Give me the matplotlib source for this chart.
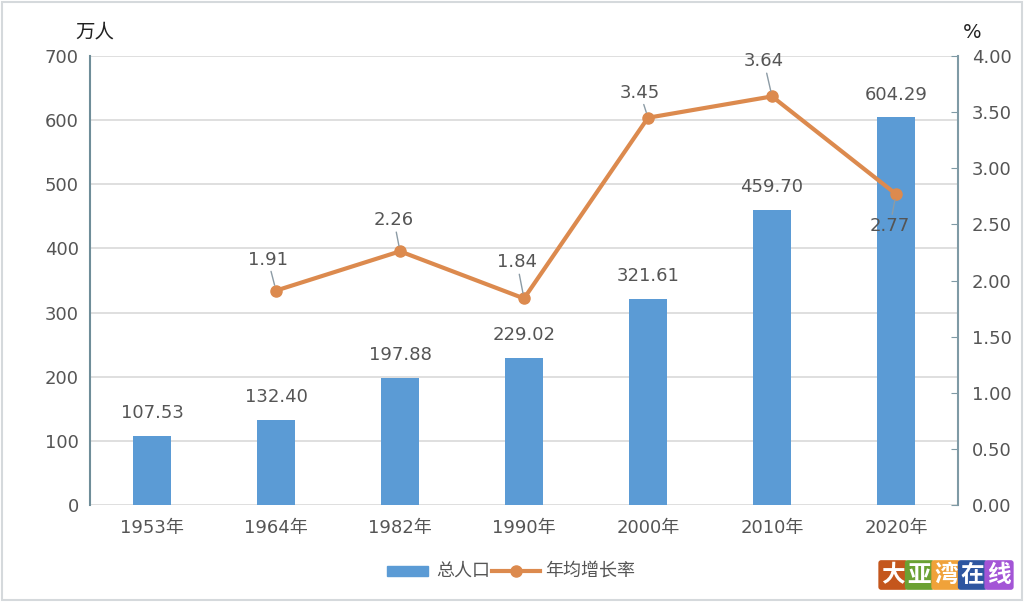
import matplotlib
matplotlib.use('Agg')
import matplotlib.pyplot as plt
import numpy as np

plt.rcParams['font.family'] = ['DejaVu Sans', 'Noto Sans CJK SC']

# 数据
years = ['1953年', '1964年', '1982年', '1990年', '2000年', '2010年', '2020年']
population = [107.53, 132.40, 197.88, 229.02, 321.61, 459.70, 604.29]
growth_years = ['1964年', '1982年', '1990年', '2000年', '2010年', '2020年']
growth_rate = [1.91, 2.26, 1.84, 3.45, 3.64, 2.77]
# 标签中心相对点的偏移(像素): 2020年的标签在点下方
label_offset = [(-8, 31), (-6, 31), (-7, 36), (-8, 25), (-8, 35), (-6, -32)]

bar_color = '#5B9BD5'
line_color = '#DC8A4E'
text_color = '#555555'

fig = plt.figure(figsize=(10.24, 6.02), dpi=100)
ax = fig.add_axes([90 / 1024, 1 - 505 / 602, 868 / 1024, 449 / 602])

x = np.arange(len(years))
ax.bar(x, population, width=0.31, color=bar_color, zorder=2)
for xi, v in zip(x, population):
    ax.annotate('%.2f' % v, xy=(xi, v), xytext=(0, 10), textcoords='offset points',
                ha='center', va='bottom', fontsize=13, color=text_color)

ax.set_xlim(-0.5, len(years) - 0.5)
ax.set_ylim(0, 700)
ax.set_yticks(range(0, 701, 100))
ax.set_xticks(x)
ax.set_xticklabels(years)
ax.grid(axis='y', color='#D9D9D9', linewidth=1.2, zorder=0)
ax.set_axisbelow(True)
ax.tick_params(axis='both', length=0, labelsize=13, colors=text_color, pad=8)
ax.tick_params(axis='x', pad=10)
for s in ['top', 'right', 'bottom']:
    ax.spines[s].set_visible(False)
ax.spines['left'].set_color('#6F8D99')
ax.spines['left'].set_linewidth(1.5)

# 右轴: 年均增长率
ax2 = ax.twinx()
gx = [years.index(g) for g in growth_years]
ax2.plot(gx, growth_rate, color=line_color, linewidth=3, marker='o',
         markersize=8, zorder=3)
ax2.set_ylim(0, 4)
ax2.set_yticks(np.arange(0, 4.01, 0.5))
ax2.set_yticklabels(['%.2f' % t for t in np.arange(0, 4.01, 0.5)])
ax2.tick_params(axis='y', direction='in', length=5, color='#7F9AA5',
                labelsize=13, labelcolor=text_color, pad=10)
for s in ['top', 'left', 'bottom']:
    ax2.spines[s].set_visible(False)
ax2.spines['right'].set_color('#7F9AA5')
ax2.spines['right'].set_linewidth(1.5)

for xi, v, off in zip(gx, growth_rate, label_offset):
    ax2.annotate('%.2f' % v, xy=(xi, v), xytext=off, textcoords='offset pixels',
                 ha='center', va='center', fontsize=13, color=text_color,
                 arrowprops=dict(arrowstyle='-', color='#8C9BA5', lw=1,
                                 shrinkA=0, shrinkB=4))

# 单位
fig.text(75 / 1024, 1 - 32 / 602, '万人', fontsize=14, color='#222222',
         ha='left', va='center')
fig.text(963 / 1024, 1 - 32 / 602, '%', fontsize=14, color='#222222',
         ha='left', va='center')

# 图例
fig.patches.append(plt.Rectangle((387 / 1024, 1 - 576 / 602), 41 / 1024, 10 / 602,
                                 transform=fig.transFigure, color=bar_color))
fig.text(436 / 1024, 1 - 571 / 602, '总人口', fontsize=13, color=text_color,
         ha='left', va='center')
fig.lines.append(plt.Line2D([492 / 1024, 540 / 1024], [1 - 571 / 602, 1 - 571 / 602],
                            transform=fig.transFigure, color=line_color, linewidth=3))
fig.lines.append(plt.Line2D([516 / 1024], [1 - 571 / 602], transform=fig.transFigure,
                            color=line_color, marker='o', markersize=8))
fig.text(545 / 1024, 1 - 571 / 602, '年均增长率', fontsize=13, color=text_color,
         ha='left', va='center')

# 水印
wm_chars = ['大', '亚', '湾', '在', '线']
wm_colors = ['#C4561C', '#6BA133', '#F0A23A', '#2E56A0', '#A355D6']
for i, (c, col) in enumerate(zip(wm_chars, wm_colors)):
    fig.text((893 + i * 26.5) / 1024, 1 - 575 / 602, c, fontsize=17,
             fontweight='bold', color='white', ha='center', va='center',
             family=['Noto Sans CJK SC'],
             bbox=dict(boxstyle='round,pad=0.12', fc=col, ec='none'))

# 外框
fig.patches.append(plt.Rectangle((0.002, 0.003), 0.996, 0.994, transform=fig.transFigure,
                                 fill=False, ec='#D5D9DC', lw=1.5))

fig.savefig('out.png', dpi=100)
